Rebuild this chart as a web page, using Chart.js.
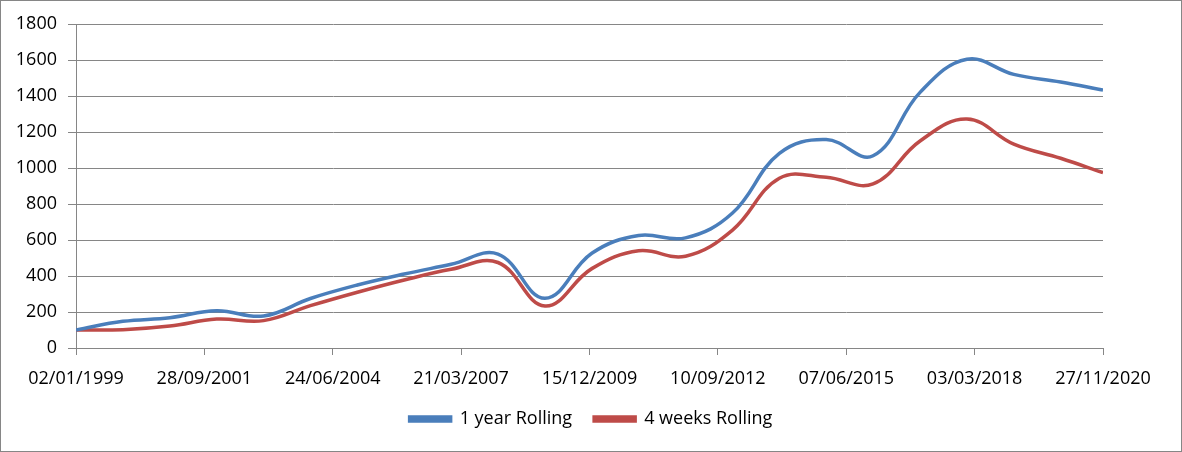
<!DOCTYPE html>
<html>
<head>
<meta charset="utf-8">
<script src="https://cdn.jsdelivr.net/npm/chart.js@4/dist/chart.umd.min.js"></script>
<style>
  html, body { margin: 0; padding: 0; background: #fff; }
  #wrap {
    position: absolute; left: 0; top: 0;
    width: 1182px; height: 452px;
    box-sizing: border-box;
    border: 1px solid #868686;
    background: #fff;
  }
  #chart { display: block; }
</style>
</head>
<body>
<div id="wrap"><canvas id="chart" width="1180" height="450"></canvas></div>
<script>
// Values (roughly one point per year)
const dates = [
  '1999-01-02', '2000-01-02', '2001-01-02', '2002-01-02', '2003-01-02',
  '2004-01-02', '2005-01-02', '2006-01-02', '2007-01-02', '2008-01-02',
  '2009-01-02', '2010-01-02', '2011-01-02', '2012-01-02', '2013-01-02',
  '2014-01-02', '2015-01-02', '2016-01-02', '2017-01-02', '2018-01-02',
  '2019-01-02', '2020-01-02', '2020-11-27'
];
const yearRolling = [
  100, 148, 168, 207, 178, 275, 350, 411, 465, 522,
  276, 526, 625, 612, 750, 1081, 1158, 1068, 1420, 1604,
  1520, 1478, 1433
];
const weeksRolling = [
  100, 102, 122, 161, 152, 235, 310, 378, 437, 475,
  233, 441, 540, 510, 655, 943, 948, 912, 1150, 1272,
  1133, 1054, 974
];
const seriesNames = ['1 year Rolling', '4 weeks Rolling'];

const blue = '#4a7ebb';
const red = '#be4b48';
const gridGray = '#868686';
const font = "'Open Sans', 'Noto Sans', sans-serif";

const DAY = 86400000;
const start = Date.parse(dates[0]);
const toDay = d => (Date.parse(d) - start) / DAY;
const pad = n => String(n).padStart(2, '0');
function fmtDate(day) {
  const d = new Date(start + day * DAY);
  return pad(d.getUTCDate()) + '/' + pad(d.getUTCMonth() + 1) + '/' + d.getUTCFullYear();
}

const toPoints = vals => vals.map((v, i) => ({ x: toDay(dates[i]), y: v }));

const ctx = document.getElementById('chart').getContext('2d');
new Chart(ctx, {
  type: 'line',
  data: {
    datasets: [
      {
        label: seriesNames[0],
        data: toPoints(yearRolling),
        borderColor: blue,
        backgroundColor: blue,
        borderWidth: 3.5,
        pointRadius: 0,
        tension: 0.4
      },
      {
        label: seriesNames[1],
        data: toPoints(weeksRolling),
        borderColor: red,
        backgroundColor: red,
        borderWidth: 3.5,
        pointRadius: 0,
        tension: 0.4
      }
    ]
  },
  options: {
    responsive: false,
    animation: false,
    devicePixelRatio: 1,
    layout: { padding: { left: 0, right: 0, top: 23, bottom: 13 } },
    plugins: {
      tooltip: { enabled: false },
      legend: {
        position: 'bottom',
        labels: {
          color: '#000',
          font: { family: font, size: 18 },
          boxWidth: 41,
          boxHeight: 4,
          padding: 22
        }
      }
    },
    scales: {
      x: {
        type: 'linear',
        min: 0,
        max: toDay(dates[dates.length - 1]),
        afterFit: s => { s.height = 40; },
        grid: {
          drawOnChartArea: false,
          drawTicks: true,
          tickLength: 7,
          color: gridGray
        },
        border: { color: gridGray },
        ticks: {
          stepSize: 1000,
          autoSkip: false,
          maxRotation: 0,
          padding: 13,
          color: '#000',
          font: { family: font, size: 18 },
          callback: v => fmtDate(v)
        }
      },
      y: {
        min: 0,
        max: 1800,
        afterFit: s => { s.width = 75; },
        grid: { color: gridGray, tickLength: 8 },
        border: { color: gridGray },
        ticks: {
          stepSize: 200,
          padding: 11,
          color: '#000',
          font: { family: font, size: 18 },
          callback: v => String(v)
        }
      },
      // empty right-hand gutter so the legend stays centred on the whole canvas
      yGutter: {
        position: 'right',
        display: true,
        afterFit: s => { s.width = 78; },
        grid: { display: false },
        border: { display: false },
        ticks: { display: false }
      }
    }
  }
});
</script>
</body>
</html>
